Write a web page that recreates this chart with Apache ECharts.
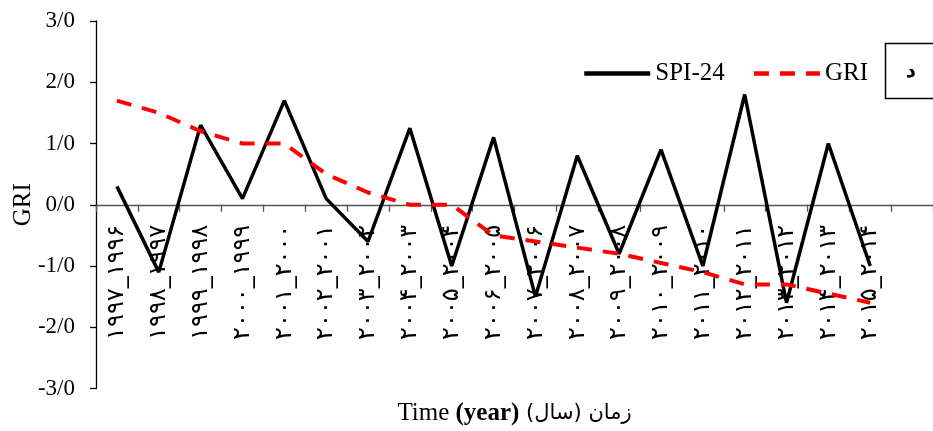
<!DOCTYPE html>
<html>
<head>
<meta charset="utf-8">
<script src="https://cdn.jsdelivr.net/npm/echarts@6/dist/echarts.min.js"></script>
<style>
html,body{margin:0;padding:0;background:#fff;}
#chart{width:933px;height:431px;}
</style>
</head>
<body>
<div id="chart"></div>
<script>
const categories = [
  '۱۹۹۷_۱۹۹۶','۱۹۹۸_۱۹۹۷','۱۹۹۹_۱۹۹۸','۲۰۰۰_۱۹۹۹','۲۰۰۱_۲۰۰۰',
  '۲۰۰۲_۲۰۰۱','۲۰۰۳_۲۰۰۲','۲۰۰۴_۲۰۰۳','۲۰۰۵_۲۰۰۴','۲۰۰۶_۲۰۰۵',
  '۲۰۰۷_۲۰۰۶','۲۰۰۸_۲۰۰۷','۲۰۰۹_۲۰۰۸','۲۰۱۰_۲۰۰۹','۲۰۱۱_۲۰۱۰',
  '۲۰۱۲_۲۰۱۱','۲۰۱۳_۲۰۱۲','۲۰۱۴_۲۰۱۳','۲۰۱۵_۲۰۱۴',''
];
const spi24 = [0.3, -1.1, 1.3, 0.1, 1.7, 0.1, -0.6, 1.25, -1.0, 1.1, -1.5, 0.8, -0.8, 0.9, -1.0, 1.8, -1.6, 1.0, -1.0];
const gri   = [1.7, 1.5, 1.2, 1.0, 1.0, 0.5, 0.2, 0.0, 0.0, -0.5, -0.6, -0.7, -0.8, -0.95, -1.1, -1.3, -1.3, -1.45, -1.6];
const seriesNames = ['SPI-24', 'GRI'];
const yMin = -3, yMax = 3, yStep = 1;
const xTitle = 'Time ';
const xTitleBold = '(year)';
const xTitleFa = 'زمان (سال)';
const yTitle = 'GRI';
const panelTag = 'د';

const serif = '"Liberation Serif", "Times New Roman", serif';
const gridTop = 21, gridHeight = 367.5;
const chart = echarts.init(document.getElementById('chart'), null, {renderer: 'canvas'});
chart.setOption({
  animation: false,
  backgroundColor: '#fff',
  grid: {left: 96, top: gridTop, width: 837, height: gridHeight, containLabel: false, outerBoundsMode: 'none'},
  legend: {
    left: 577, top: 56,
    itemWidth: 66, itemHeight: 14, itemGap: 27,
    itemStyle: {opacity: 0},
    lineStyle: {width: 4.5},
    textStyle: {fontFamily: serif, fontSize: 25, color: '#000'},
    data: seriesNames
  },
  xAxis: {
    type: 'category',
    data: categories,
    boundaryGap: true,
    position: 'bottom',
    offset: -gridHeight * (0 - yMin) / (yMax - yMin),
    name: '{a|' + xTitle + '}{b|' + xTitleBold + '}{c| ' + xTitleFa + '}',
    nameLocation: 'middle',
    nameGap: 196,
    nameMoveOverlap: false,
    nameTextStyle: {
      rich: {
        a: {fontFamily: serif, fontSize: 25, color: '#000'},
        b: {fontFamily: serif, fontSize: 25, color: '#000', fontWeight: 'bold'},
        c: {fontFamily: '"DejaVu Sans", sans-serif', fontSize: 21, color: '#000'}
      }
    },
    axisLine: {onZero: false, lineStyle: {color: '#555', width: 1.3}},
    axisTick: {show: true, length: 7, inside: false, alignWithLabel: false, lineStyle: {color: '#555', width: 1.3}},
    axisLabel: {
      rotate: 90, margin: 20, interval: 0,
      fontFamily: '"DejaVu Sans", sans-serif', fontSize: 24, color: '#000'
    },
    splitLine: {show: false}
  },
  yAxis: {
    type: 'value',
    min: yMin, max: yMax, interval: yStep,
    name: yTitle,
    nameLocation: 'middle',
    nameGap: 60,
    nameMoveOverlap: false,
    nameTextStyle: {fontFamily: serif, fontSize: 25, color: '#000'},
    axisLine: {show: true, onZero: false, lineStyle: {color: '#000', width: 1.3}},
    axisTick: {show: true, length: 6, lineStyle: {color: '#000', width: 1.3}},
    axisLabel: {
      margin: 21, fontFamily: serif, fontSize: 23, color: '#000',
      formatter: v => v.toFixed(1).replace('.', '/')
    },
    splitLine: {show: false}
  },
  series: [
    {
      name: seriesNames[0], type: 'line', data: spi24,
      symbol: 'none', smooth: false,
      lineStyle: {color: '#000', width: 3.5},
      itemStyle: {color: '#000'}
    },
    {
      name: seriesNames[1], type: 'line', data: gri,
      symbol: 'none', smooth: false,
      lineStyle: {color: '#ff0000', width: 4, type: [15, 11]},
      itemStyle: {color: '#ff0000'}
    }
  ],
  graphic: [
    {type: 'rect', shape: {x: 885.5, y: 43.5, width: 60, height: 55},
     style: {fill: '#fff', stroke: '#000', lineWidth: 1.5}},
    {type: 'text', x: 911, y: 72,
     style: {text: panelTag, font: 'bold 20px "DejaVu Sans", sans-serif', fill: '#000', textAlign: 'center', textVerticalAlign: 'middle'}}
  ]
});
</script>
</body>
</html>
